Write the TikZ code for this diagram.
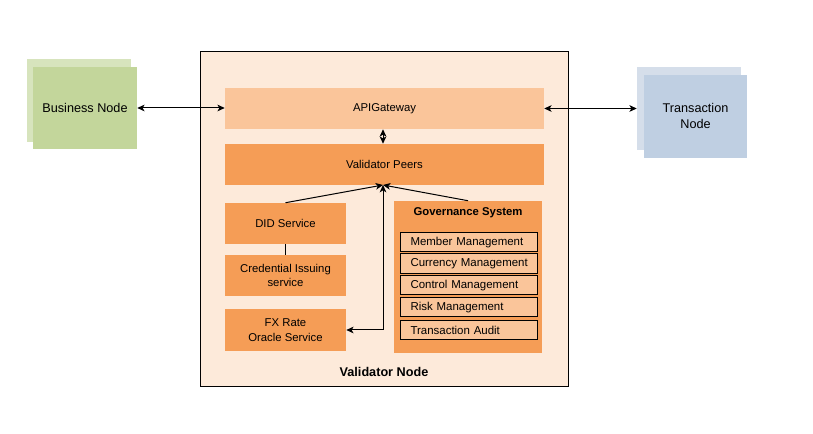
\documentclass[tikz,border=0pt]{standalone}
\usepackage{fontspec}
\setmainfont{Liberation Sans}
\usetikzlibrary{fit,arrows.meta}
\definecolor{outerfill}{HTML}{FDEADA}
\definecolor{lightor}{HTML}{FAC59A}
\definecolor{midor}{HTML}{F59D56}
\definecolor{gback}{HTML}{D7E4BD}
\definecolor{gfront}{HTML}{C3D69B}
\definecolor{bback}{HTML}{D5DEEA}
\definecolor{bfront}{HTML}{BFCFE2}
\tikzset{
  shapebox/.style={inner sep=0pt},
  txt/.style={inner sep=0pt, font=\fontsize{8.5}{11}\selectfont, align=center},
  bigtxt/.style={inner sep=0pt, font=\fontsize{9.5}{12}\selectfont, align=center},
  subbox/.style={draw=black, line width=0.75pt, fill=lightor, anchor=north west,
    minimum height=14.5pt, text width=88pt, inner xsep=7.5pt, inner ysep=0pt,
    align=left, font=\fontsize{8.6}{10}\selectfont},
  conn/.style={line width=0.75pt, draw=black},
  tip/.tip={Stealth[length=5.5pt,width=5pt,inset=1.5pt]}
}
\begin{document}
\begin{tikzpicture}[x=0.75pt,y=-0.75pt]
\useasboundingbox (0,0) rectangle (813,434);
% outer validator box
\node[fit={(200,52) (568,386)}, shapebox, draw=black, line width=0.75pt, fill=outerfill] (vbox) {};
\node[font=\bfseries\fontsize{9.5}{11}\selectfont] (vlabel) at (384,372) {Validator Node};
% business node
\node[fit={(27,59) (131,142)}, shapebox, fill=gback] (bnback) {};
\node[fit={(33,67) (137,149)}, shapebox, fill=gfront] (bn) {};
\node[bigtxt] (bntxt) at (bn.center) {Business Node};
% transaction node
\node[fit={(637,67) (741,150)}, shapebox, fill=bback] (tnback) {};
\node[fit={(644,75) (747,158)}, shapebox, fill=bfront] (tn) {};
\node[bigtxt] (tntxt) at (695.5,115.5) {Transaction\\Node};
% inner boxes
\node[fit={(225,88) (544,129)}, shapebox, fill=lightor] (api) {};
\node[txt] (apitxt) at (api.center) {APIGateway};
\node[fit={(225,144) (544,185)}, shapebox, fill=midor] (peers) {};
\node[txt] (peerstxt) at (peers.center) {Validator Peers};
\node[fit={(225,203) (346,244)}, shapebox, fill=midor] (did) {};
\node[txt] (didtxt) at (did.center) {DID Service};
\node[fit={(225,255) (346,296)}, shapebox, fill=midor] (cred) {};
\node[txt] (credtxt) at (cred.center) {Credential Issuing\\service};
\node[fit={(225,309) (346,351)}, shapebox, fill=midor] (fx) {};
\node[txt] (fxtxt) at (fx.center) {FX Rate\\Oracle Service};
\node[fit={(394,201) (542,353)}, shapebox, fill=midor] (gov) {};
\node[font=\bfseries\fontsize{8.5}{10}\selectfont] (govlabel) at (468,213) {Governance System};
\node[subbox] (m1) at (400,232) {Member Management};
\node[subbox] (m2) at (400,253.5) {Currency Management};
\node[subbox] (m3) at (400,275) {Control Management};
\node[subbox] (m4) at (400,297) {Risk Management};
\node[subbox] (m5) at (400,320) {Transaction Audit};
% connectors
\coordinate (hub) at (383,185);
\draw[conn, {tip}-{tip}] (bn.east) -- (bn.east -| api.west);
\draw[conn, {tip}-{tip}] (api.east) -- (tnback.west);
\draw[conn, {tip}-{tip}] (api.south -| hub) -- (peers.north -| hub);
\draw[conn, -{tip}] (did.north) -- (hub);
\draw[conn, -{tip}] (gov.north) -- (hub);
\draw[conn, {tip}-{tip}] (fx.east) -| (hub);
\draw[conn] (did.south) -- (cred.north);
\end{tikzpicture}
\end{document}
